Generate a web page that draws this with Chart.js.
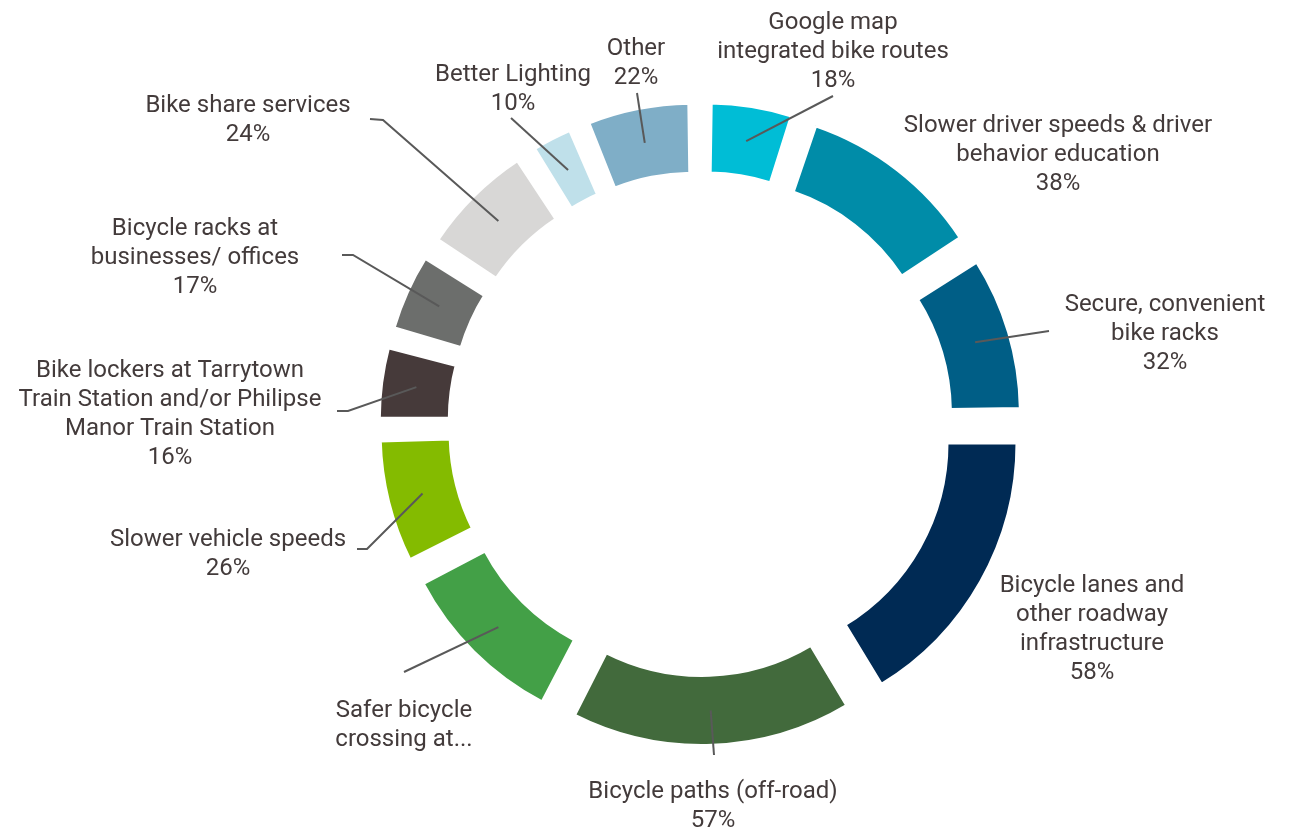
<!DOCTYPE html>
<html>

<head>
    <title>Bicycle Improvements</title>
    <meta charset="utf-8">
    <script src="https://cdn.jsdelivr.net/npm/chart.js@4.4.1/dist/chart.umd.min.js"></script>
    <style>
        body { margin: 0; background: #fff; }
        #frame { width: 1296px; height: 829px; position: relative; }
    </style>
</head>

<body>
    <div id="frame">
        <canvas id="bike_chart"></canvas>
    </div>
</body>
<script>
    // slices, clockwise from 12 o'clock
    const categories = [
        ["Google map", "integrated bike routes"],
        ["Slower driver speeds & driver", "behavior education"],
        ["Secure, convenient", "bike racks"],
        ["Bicycle lanes and", "other roadway", "infrastructure"],
        ["Bicycle paths (off-road)"],
        ["Safer bicycle", "crossing at..."],
        ["Slower vehicle speeds"],
        ["Bike lockers at Tarrytown", "Train Station and/or Philipse", "Manor Train Station"],
        ["Bicycle racks at", "businesses/ offices"],
        ["Bike share services"],
        ["Better Lighting"],
        ["Other"]
    ];
    const percents = [18, 38, 32, 58, 57, 35, 26, 16, 17, 24, 10, 22];
    // the "safer crossing" label shows no percentage in the original
    const percentLabels = ["18%", "38%", "32%", "58%", "57%", null, "26%", "16%", "17%", "24%", "10%", "22%"];
    const colors = ['#00BDD6', '#008CA8', '#005E86', '#002A54', '#426A3C', '#43A047',
                    '#84BB00', '#463A3A', '#6C6E6C', '#D8D7D6', '#BFE0EA', '#7FAEC7'];

    const explode = 39; // px every slice is pushed out from the centre

    // where each label sits (centre x, first baseline) and where its leader line ends
    const labelLayout = [
        {x: 833, y: 29, leader: [[833, 96]]},
        {x: 1058, y: 132, leader: null},
        {x: 1165, y: 311, leader: [[1049, 331]]},
        {x: 1092, y: 592, leader: null},
        {x: 713, y: 798, leader: [[714, 755]]},
        {x: 404, y: 717, leader: [[404, 672]]},
        {x: 228, y: 546, leader: [[367, 549], [357, 549]]},
        {x: 170, y: 377, leader: [[348, 411], [337, 411]]},
        {x: 195, y: 235, leader: [[353, 255], [342, 255]]},
        {x: 248, y: 112, leader: [[383, 120], [370, 119]]},
        {x: 513, y: 81, leader: [[511, 118]]},
        {x: 636, y: 55, leader: [[637, 93]]}
    ];

    // chart.js grows the radius of an offset arc; undo that so the offset is a plain push outwards
    const explodeFix = {
        id: 'explodeFix',
        afterDatasetUpdate(chart, args) {
            args.meta.data.forEach(function (arc) {
                const fix = 1 - Math.sin(Math.min(Math.PI, arc.circumference));
                arc.outerRadius -= explode * fix;
                arc.innerRadius -= explode * fix;
            });
        }
    };

    const labelPlugin = {
        id: 'outsideLabels',
        afterDatasetsDraw(chart) {
            const ctx = chart.ctx;
            const meta = chart.getDatasetMeta(0);
            const ring = meta.controller;
            // leader lines start in the middle of the pushed-out ring
            const r = (ring.innerRadius + ring.outerRadius) / 2 + explode;
            ctx.save();
            meta.data.forEach(function (arc, i) {
                const p = arc.getProps(['x', 'y', 'startAngle', 'endAngle'], true);
                const mid = (p.startAngle + p.endAngle) / 2;
                const lay = labelLayout[i];
                if (lay.leader) {
                    ctx.beginPath();
                    ctx.moveTo(p.x + Math.cos(mid) * r, p.y + Math.sin(mid) * r);
                    lay.leader.forEach(pt => ctx.lineTo(pt[0], pt[1]));
                    ctx.strokeStyle = '#595959';
                    ctx.lineWidth = 2;
                    ctx.stroke();
                }
                let lines = categories[i].slice();
                if (percentLabels[i]) lines.push(percentLabels[i]);
                ctx.font = '24px Roboto';
                ctx.fillStyle = '#433B3B';
                ctx.textAlign = 'center';
                ctx.textBaseline = 'alphabetic';
                lines.forEach((t, k) => ctx.fillText(t, lay.x, lay.y + k * 29));
            });
            ctx.restore();
        }
    };

    new Chart("bike_chart", {
        type: "doughnut",
        data: {
            labels: categories.map(c => c.join(" ")),
            datasets: [{
                data: percents,
                backgroundColor: colors,
                borderColor: '#ffffff',
                borderWidth: 3.5,
                borderAlign: 'center',
                offset: explode * 4,
                hoverOffset: 0
            }]
        },
        options: {
            responsive: true,
            maintainAspectRatio: false,
            animation: false,
            events: [],
            radius: 282.75,
            cutout: '75.07%',
            layout: {padding: {left: 305, right: 200, top: 90, bottom: 71}},
            plugins: {
                legend: {display: false},
                tooltip: {enabled: false}
            }
        },
        plugins: [explodeFix, labelPlugin]
    });
</script>
</html>
